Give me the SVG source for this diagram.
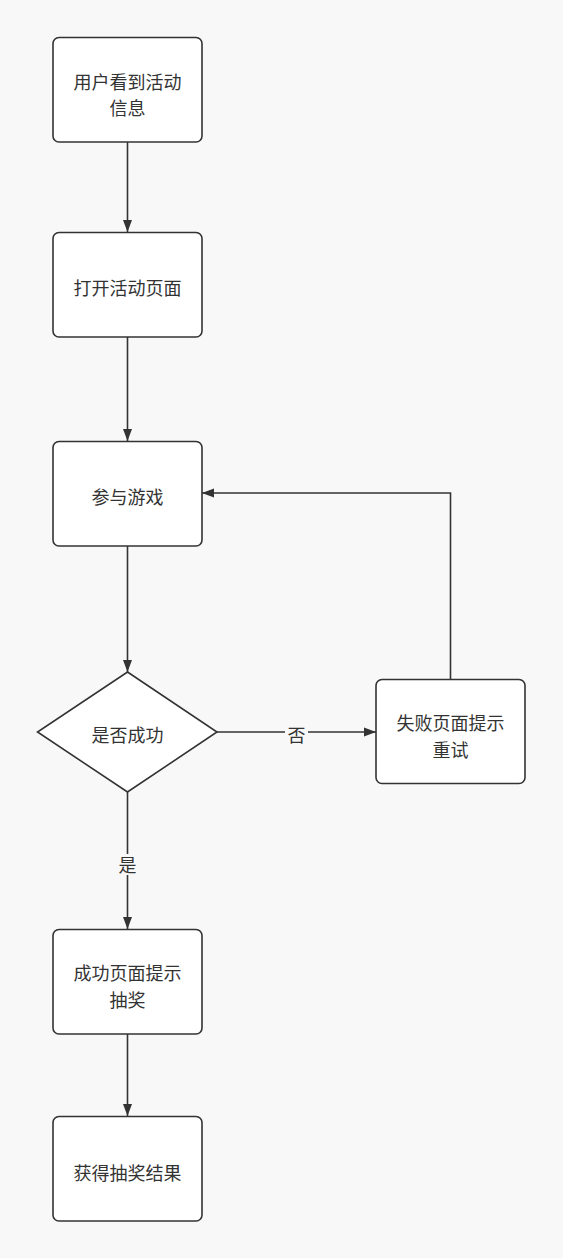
<svg xmlns="http://www.w3.org/2000/svg" width="563" height="1258" viewBox="0 0 563 1258">
<style>
.node{fill:#ffffff;stroke:#333333;stroke-width:1.6}
.t{font-family:"Noto Sans CJK SC","Liberation Sans",sans-serif;font-size:18px;fill:#333333;text-anchor:middle;dominant-baseline:central}
.lbl{font-family:"Noto Sans CJK SC","Liberation Sans",sans-serif;font-size:18px;fill:#333333;text-anchor:middle;dominant-baseline:central}
.edge{fill:none;stroke:#333333;stroke-width:1.6}
</style>
<defs>
<marker id="arr" viewBox="0 0 12 10" refX="12" refY="5" markerWidth="12" markerHeight="10" markerUnits="userSpaceOnUse" orient="auto">
<path d="M0,0.5 L12,5 L0,9.5 Z" fill="#333333"/>
</marker>
</defs>
<rect width="563" height="1258" fill="#f8f8f8"/>
<g id="connectors">
<line class="edge" x1="127.5" y1="142" x2="127.5" y2="232" marker-end="url(#arr)"/>
<line class="edge" x1="127.5" y1="337" x2="127.5" y2="441" marker-end="url(#arr)"/>
<line class="edge" x1="127.5" y1="546" x2="127.5" y2="672" marker-end="url(#arr)"/>
<line class="edge" x1="217" y1="732" x2="376" y2="732" marker-end="url(#arr)"/>
<polyline class="edge" points="450.5,679 450.5,493 202,493" marker-end="url(#arr)"/>
<line class="edge" x1="127.5" y1="792" x2="127.5" y2="929" marker-end="url(#arr)"/>
<line class="edge" x1="127.5" y1="1034" x2="127.5" y2="1116" marker-end="url(#arr)"/>
<rect x="285" y="723" width="23" height="20" fill="#f8f8f8"/>
<text class="lbl" x="296.5" y="734">否</text>
<rect x="116" y="854" width="23" height="21" fill="#f8f8f8"/>
<text class="lbl" x="127.5" y="864">是</text>
</g>
<g id="n1">
<rect class="node" x="53" y="37.5" width="149" height="104.5" rx="6"/>
<text class="t" x="127.5" y="80.5">用户看到活动<tspan x="127.5" dy="26.5">信息</tspan></text>
</g>
<g id="n2">
<rect class="node" x="53" y="232.5" width="149" height="104.5" rx="6"/>
<text class="t" x="127.5" y="287">打开活动页面</text>
</g>
<g id="n3">
<rect class="node" x="53" y="441.5" width="149" height="104.5" rx="6"/>
<text class="t" x="127.5" y="496">参与游戏</text>
</g>
<g id="n4">
<polygon class="node" points="127.5,672 217,732 127.5,792 37.5,732"/>
<text class="t" x="127.5" y="734">是否成功</text>
</g>
<g id="n5">
<rect class="node" x="376" y="679.5" width="149" height="104" rx="6"/>
<text class="t" x="450.5" y="722">失败页面提示<tspan x="450.5" dy="26.5">重试</tspan></text>
</g>
<g id="n6">
<rect class="node" x="53" y="929.5" width="149" height="104.5" rx="6"/>
<text class="t" x="127.5" y="972">成功页面提示<tspan x="127.5" dy="26.5">抽奖</tspan></text>
</g>
<g id="n7">
<rect class="node" x="53" y="1116.5" width="149" height="104.5" rx="6"/>
<text class="t" x="127.5" y="1172">获得抽奖结果</text>
</g>
</svg>
